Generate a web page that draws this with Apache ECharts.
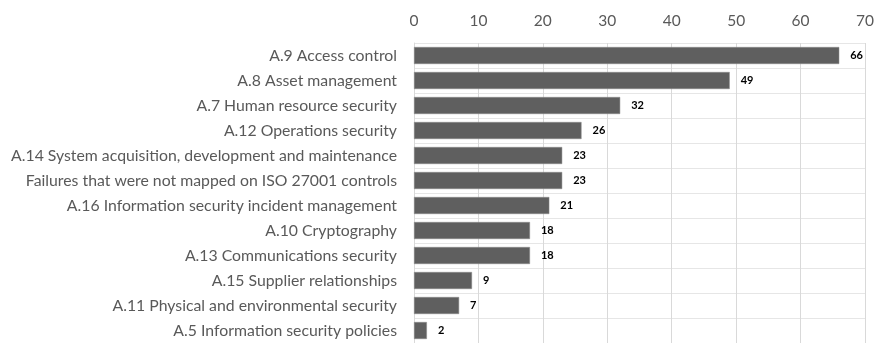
<!DOCTYPE html>
<html><head><meta charset="utf-8">
<script src="https://cdn.jsdelivr.net/npm/echarts@6/dist/echarts.min.js"></script>
<style>html,body{margin:0;padding:0;background:#fff}#c{width:877px;height:343px}</style>
</head><body><div id="c"></div>
<script>
const categories = [
  "A.9 Access control",
  "A.8 Asset management",
  "A.7 Human resource security",
  "A.12 Operations security",
  "A.14 System acquisition, development and maintenance",
  "Failures that were not mapped on ISO 27001 controls",
  "A.16 Information security incident management",
  "A.10 Cryptography",
  "A.13 Communications security",
  "A.15 Supplier relationships",
  "A.11 Physical and environmental security",
  "A.5 Information security policies"
];
const values = [66, 49, 32, 26, 23, 23, 21, 18, 18, 9, 7, 2];
const xTicks = [0, 10, 20, 30, 40, 50, 60, 70];

const chart = echarts.init(document.getElementById('c'), null, {renderer: 'canvas'});
chart.setOption({
  animation: false,
  grid: {left: 414, top: 43, width: 452, height: 302, containLabel: false},
  xAxis: {
    type: 'value', position: 'top', min: 0, max: 70, interval: 10,
    axisLine: {show: false}, axisTick: {show: false},
    axisLabel: {color: '#595959', fontFamily: 'Lato', fontSize: 15.5, margin: 14,
      formatter: v => xTicks.includes(v) ? String(v) : ''},
    splitLine: {show: true, lineStyle: {color: '#d9d9d9', width: 1}}
  },
  yAxis: {
    type: 'category', data: categories, inverse: true,
    axisLine: {show: true, lineStyle: {color: '#d9d9d9'}},
    axisTick: {show: false},
    axisLabel: {color: '#595959', fontFamily: 'Lato', fontSize: 15.8, margin: 17},
    splitLine: {show: true, lineStyle: {color: '#e6e6e6', width: 1}}
  },
  series: [{
    type: 'bar', data: values, barWidth: 17,
    itemStyle: {color: '#5f5f5f', borderColor: '#8a8a8a', borderWidth: 0.5},
    label: {show: true, position: 'right', distance: 11, color: '#000', fontWeight: 'bold',
      fontFamily: 'Lato', fontSize: 11}
  }]
});
</script></body></html>
